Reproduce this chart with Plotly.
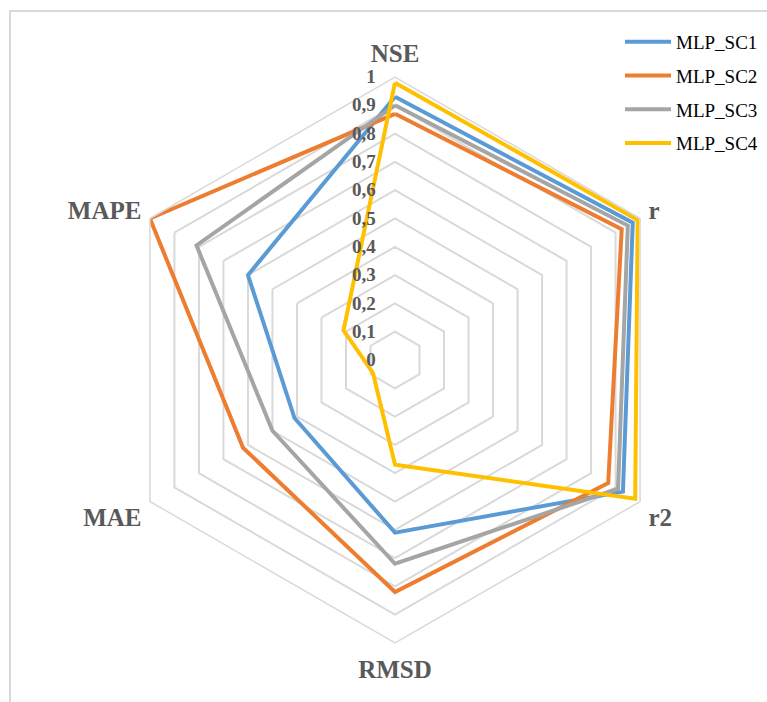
import plotly.graph_objects as go

# Performance metrics for each MLP scenario (normalised 0-1)
categories = ["NSE", "r", "r2", "RMSD", "MAE", "MAPE"]
series_names = ["MLP_SC1", "MLP_SC2", "MLP_SC3", "MLP_SC4"]
sc1 = [0.93, 0.97, 0.93, 0.61, 0.41, 0.60]
sc2 = [0.87, 0.925, 0.87, 0.82, 0.62, 1.00]
sc3 = [0.90, 0.95, 0.91, 0.72, 0.50, 0.81]
sc4 = [0.98, 0.99, 0.98, 0.37, 0.09, 0.21]
radial_ticks = [0, 0.1, 0.2, 0.3, 0.4, 0.5, 0.6, 0.7, 0.8, 0.9, 1]

colors = ["#5B9BD5", "#ED7D31", "#A5A5A5", "#FFC000"]
W, H = 767, 702

fig = go.Figure()
for name, vals, col in zip(series_names, [sc1, sc2, sc3, sc4], colors):
    fig.add_trace(go.Scatterpolar(
        r=vals + vals[:1],
        theta=categories + categories[:1],
        mode="lines",
        name=name,
        legendgroup=name,
        line=dict(color=col, width=4),
    ))

grid = "#d9d9d9"
serif = "Liberation Serif"

fig.update_layout(
    width=W, height=H,
    margin=dict(l=0, r=0, t=0, b=0),
    paper_bgcolor="white",
    separators=", ",
    font=dict(family=serif),
    polar=dict(
        domain=dict(x=[112 / W, 678 / W], y=[1 - 643 / H, 1 - 77 / H]),
        bgcolor="white",
        gridshape="linear",
        angularaxis=dict(
            rotation=90,
            direction="clockwise",
            showgrid=False,
            showline=True,
            linecolor=grid,
            linewidth=1.5,
            ticks="outside",
            ticklen=4,
            tickcolor="rgba(0,0,0,0)",
            tickfont=dict(family=serif, size=25, color="#595959", weight="bold"),
        ),
        radialaxis=dict(
            range=[0, 1],
            tickvals=radial_ticks,
            tickformat=".1~f",
            angle=90,
            tickangle=90,
            side="counterclockwise",
            showline=False,
            ticks="outside",
            ticklen=12,
            tickcolor="rgba(0,0,0,0)",
            gridcolor=grid,
            gridwidth=1.5,
            tickfont=dict(family=serif, size=19, color="#595959", weight="bold"),
        ),
    ),
    legend=dict(
        x=620 / W, y=1 - 23 / H,
        xanchor="left", yanchor="top",
        font=dict(family=serif, size=19, color="#000000"),
        tracegroupgap=6,
        itemwidth=46,
        bgcolor="rgba(0,0,0,0)",
    ),
    shapes=[dict(
        type="rect", xref="paper", yref="paper",
        x0=10 / W, x1=1.05, y0=-0.05, y1=1 - 11 / H,
        line=dict(color=grid, width=2),
        layer="below",
    )],
)

fig.write_html("out.html")
